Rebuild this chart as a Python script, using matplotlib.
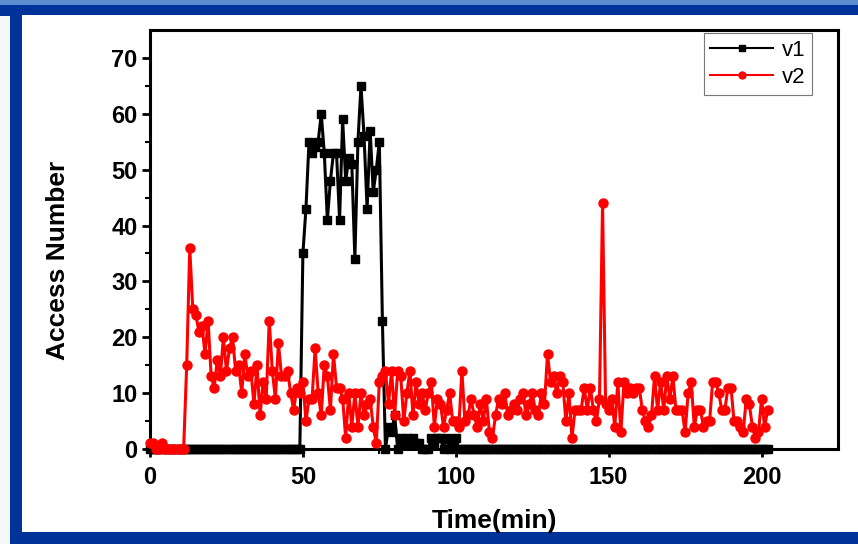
import matplotlib.pyplot as plt
from matplotlib.patches import Rectangle

# time axis, one sample per minute
time_min = list(range(0, 203))

v1 = ([0] * 50
      + [35, 43, 55, 53, 54, 55, 60, 53, 41, 48, 53, 53, 41, 59, 48, 52, 51, 34,
         55, 65, 56, 43, 57, 46, 50, 55, 23]
      + [0, 4, 3, 6, 0, 2, 1, 2, 1, 2, 1, 1, 0, 0, 0, 2, 1, 2, 2, 0, 2, 0, 1, 2, 0]
      + [0] * 101)

v2 = [1, 1, 0, 0, 1, 0, 0, 0, 0, 0, 0, 0,
      15, 36, 25, 24, 21, 22, 17, 23,
      13, 11, 16, 13, 20, 14, 18, 20, 14, 15,
      10, 17, 13, 14, 8, 15, 6, 12, 9, 23,
      14, 9, 19, 13, 13, 14, 10, 7, 11, 10,
      12, 5, 9, 9, 18, 10, 6, 15, 13, 7,
      17, 11, 11, 9, 2, 10, 4, 10, 4, 10,
      6, 8, 9, 4, 1, 12, 13, 14, 8, 14,
      6, 14, 13, 5, 10, 14, 6, 12, 8, 10,
      7, 10, 12, 4, 9, 8, 4, 7, 10, 5,
      5, 4, 14, 5, 6, 9, 6, 4, 8, 5,
      9, 3, 2, 6, 9, 8, 10, 6, 7, 8,
      7, 9, 10, 6, 8, 10, 7, 6, 10, 8,
      17, 12, 13, 10, 13, 12, 5, 10, 2, 7,
      7, 7, 11, 7, 11, 7, 5, 9, 44, 8,
      7, 9, 4, 12, 3, 12, 10, 11, 10, 11,
      11, 7, 5, 4, 6, 13, 7, 12, 7, 13,
      9, 13, 7, 7, 7, 3, 10, 12, 4, 7,
      7, 4, 5, 5, 12, 12, 10, 7, 7, 11,
      11, 5, 5, 4, 3, 9, 8, 4, 2, 3,
      9, 4, 7]

x_ticks = [0, 50, 100, 150, 200]
y_ticks = [0, 10, 20, 30, 40, 50, 60, 70]

plt.rcParams['font.family'] = ['Liberation Sans', 'DejaVu Sans']

fig = plt.figure(figsize=(8.58, 5.44), dpi=100)

# slide frame
fig.patches.append(Rectangle((0, 0), 1, 1, transform=fig.transFigure,
                             facecolor='#003399', edgecolor='none', zorder=-3))
fig.patches.append(Rectangle((0, 0.99), 1, 0.01, transform=fig.transFigure,
                             facecolor='#5b8fd0', edgecolor='none', zorder=-2))
fig.patches.append(Rectangle((0, 0), 10 / 858, 0.97, transform=fig.transFigure,
                             facecolor='#f4f6fa', edgecolor='none', zorder=-2))
fig.patches.append(Rectangle((22 / 858, 12 / 544), 1, 1 - 27 / 544,
                             transform=fig.transFigure,
                             facecolor='white', edgecolor='none', zorder=-1))

ax = fig.add_axes([150 / 858, 1 - 449 / 544, 688 / 858, 419 / 544])
ax.set_facecolor('none')

ax.plot(time_min, v1, color='black', marker='s', markersize=5.5, linewidth=2.2,
        label='v1', clip_on=False, zorder=3)
ax.plot(time_min, v2, color='red', marker='o', markersize=6.5, linewidth=2.2,
        label='v2', clip_on=False, zorder=4)

ax.set_xlim(0, 225)
ax.set_ylim(0, 75)
ax.set_xticks(x_ticks)
ax.set_yticks(y_ticks)
ax.set_xticks(range(25, 225, 50), minor=True)
ax.set_yticks(range(5, 75, 10), minor=True)
for lab in ax.get_xticklabels() + ax.get_yticklabels():
    lab.set_fontweight('bold')
ax.tick_params(axis='both', which='major', direction='out', length=6, width=2,
               labelsize=17)
ax.tick_params(axis='x', which='major', pad=6)
ax.tick_params(axis='y', which='major', pad=3)
ax.tick_params(axis='both', which='minor', direction='out', length=3.5, width=1.5)
for s in ax.spines.values():
    s.set_linewidth(2.2)

ax.set_xlabel('Time(min)', fontsize=19, fontweight='bold')
ax.set_ylabel('Access Number', fontsize=19, fontweight='bold')
ax.xaxis.set_label_coords(0.5, -0.143)
ax.yaxis.set_label_coords(-0.116, 0.45)

leg = ax.legend(loc='upper right', bbox_to_anchor=(0.962, 0.993), fontsize=16,
                frameon=True, fancybox=False, handlelength=2.8, borderpad=0.3,
                labelspacing=0.3, handletextpad=0.4, borderaxespad=0)
leg.get_frame().set_edgecolor('#555555')
leg.get_frame().set_linewidth(0.8)
for h in leg.get_lines():
    h.set_linewidth(1.5)
    h.set_markersize(5)

fig.savefig('out.png', dpi=100)
